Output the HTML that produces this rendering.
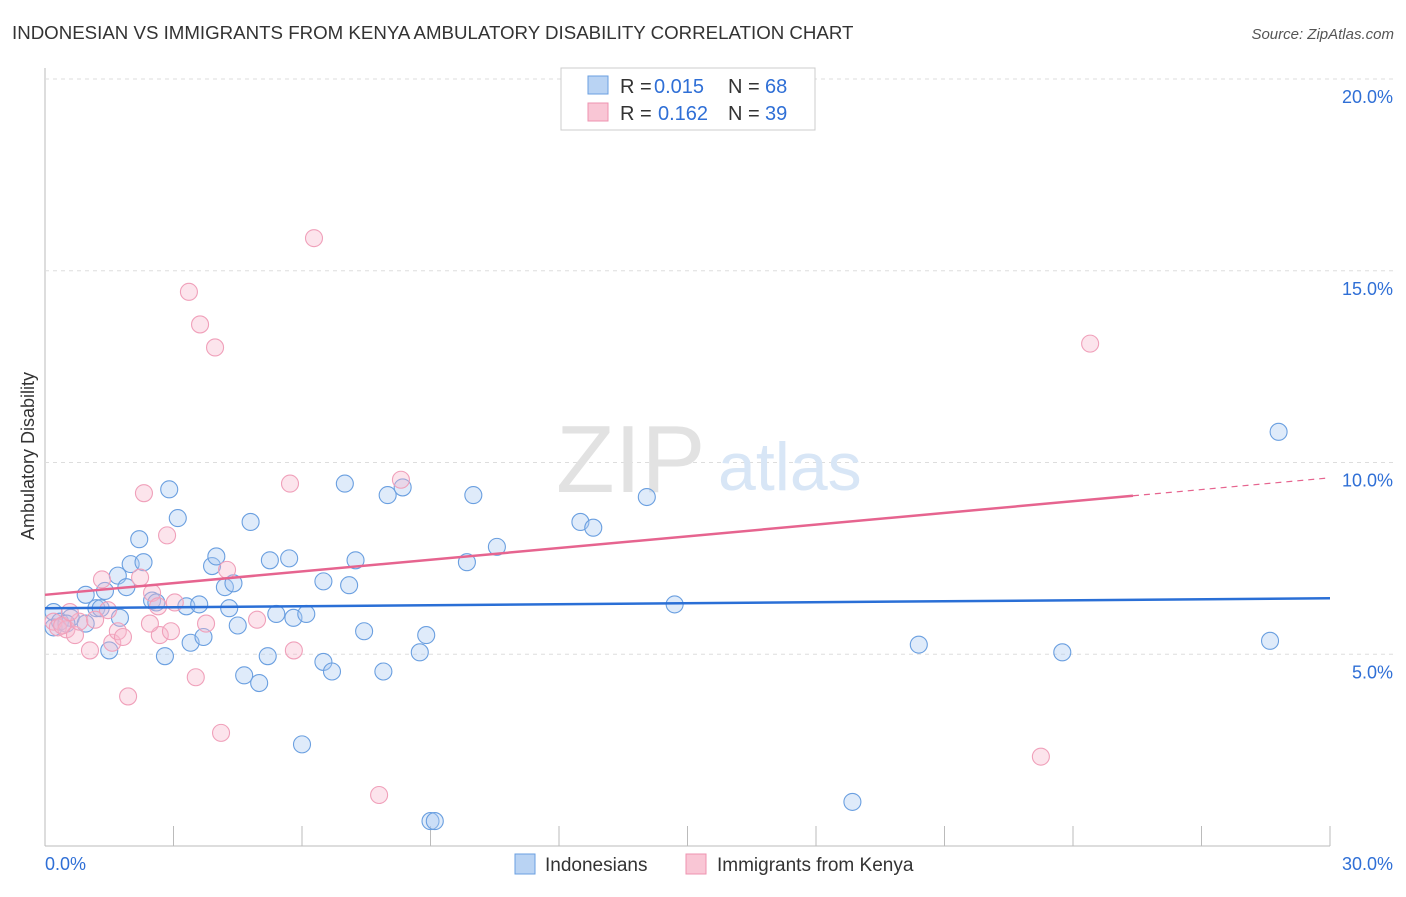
<!DOCTYPE html>
<html><head><meta charset="utf-8"><style>
body{margin:0;background:#fff;font-family:"Liberation Sans",sans-serif;}
svg text{font-family:"Liberation Sans",sans-serif;}
</style></head><body>
<svg width="1406" height="892">
<text x="12" y="39" font-size="18.7" fill="#333">INDONESIAN VS IMMIGRANTS FROM KENYA AMBULATORY DISABILITY CORRELATION CHART</text>
<text x="1394" y="39" font-size="15" fill="#555" text-anchor="end" font-style="italic">Source: ZipAtlas.com</text>
<g id="grid"></g>
<text x="556" y="492" font-size="96" fill="#e2e2e2" font-family="Liberation Serif">ZIP</text>
<text x="718" y="490" font-size="68" fill="#d8e6f6">atlas</text>
<text transform="translate(34,456) rotate(-90)" font-size="18" fill="#333" text-anchor="middle">Ambulatory Disability</text>
<g id="pts"></g>
<g id="lines"></g>
<g>
<rect x="561" y="68" width="254" height="62" fill="#fff" stroke="#ccc"/>
<rect x="588" y="76" width="20" height="18" fill="#b9d3f3" stroke="#6a9fe0"/>
<rect x="588" y="103" width="20" height="18" fill="#f9c6d5" stroke="#ee93b0"/>
<text x="620" y="93" font-size="20" fill="#333">R =</text>
<text x="654" y="93" font-size="20" fill="#2f6fd6">0.015</text>
<text x="728" y="93" font-size="20" fill="#333">N =</text>
<text x="765" y="93" font-size="20" fill="#2f6fd6">68</text>
<text x="620" y="120" font-size="20" fill="#333">R =</text>
<text x="658" y="120" font-size="20" fill="#2f6fd6">0.162</text>
<text x="728" y="120" font-size="20" fill="#333">N =</text>
<text x="765" y="120" font-size="20" fill="#2f6fd6">39</text>
</g>
<g>
<rect x="515" y="854" width="20" height="20" fill="#b9d3f3" stroke="#6a9fe0"/>
<text x="545" y="871" font-size="19" fill="#333">Indonesians</text>
<rect x="686" y="854" width="20" height="20" fill="#f9c6d5" stroke="#ee93b0"/>
<text x="717" y="871" font-size="19" fill="#333">Immigrants from Kenya</text>
</g>
</svg>
<script>
const yTicks=[5,10,15,20];
const yTickLabels=["5.0%","10.0%","15.0%","20.0%"];
const xTickLabels=["0.0%","30.0%"];
const blueX=[0.2,0.2,0.35,0.6,0.95,1.2,1.4,1.5,1.7,1.75,1.9,2.0,2.2,2.3,2.5,2.6,2.8,2.9,3.1,3.3,3.4,3.6,3.7,3.9,4.0,4.2,4.3,4.4,4.5,4.65,4.8,5.0,5.2,5.25,5.4,5.7,5.8,6.1,6.0,6.5,6.5,6.7,7.0,7.1,7.25,7.45,7.9,8.0,8.35,8.75,8.9,9.0,9.1,9.85,10.0,10.55,12.5,12.8,14.05,14.7,18.85,20.4,23.75,28.6,28.8,0.95,0.5,1.3];
const blueY=[6.1,5.7,5.85,5.95,6.55,6.2,6.65,5.1,7.05,5.95,6.75,7.35,8.0,7.4,6.4,6.35,4.95,9.3,8.55,6.25,5.3,6.3,5.45,7.3,7.55,6.75,6.2,6.85,5.75,4.45,8.45,4.25,4.95,7.45,6.05,7.5,5.95,6.05,2.65,4.8,6.9,4.55,9.45,6.8,7.45,5.6,4.55,9.15,9.35,5.05,5.5,0.65,0.65,7.4,9.15,7.8,8.45,8.3,9.1,6.3,1.15,5.25,5.05,5.35,10.8,5.8,5.8,6.2];
const pinkX=[0.2,0.3,0.5,0.7,0.8,1.05,1.33,1.47,1.57,1.7,1.82,1.94,2.22,2.31,2.5,2.64,2.68,2.85,2.94,3.03,3.36,3.52,3.62,3.76,3.97,4.11,4.25,4.95,5.72,5.81,6.28,7.8,8.31,23.25,24.4,0.4,1.17,0.58,2.45];
const pinkY=[5.85,5.7,5.65,5.5,5.85,5.1,6.95,6.15,5.3,5.6,5.45,3.9,7.0,9.2,6.6,6.25,5.5,8.1,5.6,6.35,14.45,4.4,13.6,5.8,13.0,2.95,7.2,5.9,9.45,5.1,15.85,1.33,9.55,2.33,13.1,5.75,5.9,6.1,5.8];
const blueLine=[6.2,6.46];
const pinkLine=[6.55,9.6];
const NS="http://www.w3.org/2000/svg";
const X0=45,X1=1330,Y0=846,PY=38.35;
function xs(v){return X0+(v/30)*(X1-X0);}
function ys(v){return Y0-v*PY;}
function mk(t,a,p){const e=document.createElementNS(NS,t);for(const k in a)e.setAttribute(k,a[k]);p.appendChild(e);return e;}
const grid=document.getElementById('grid');
let ax=mk('line',{x1:45,y1:68,x2:45,y2:846,stroke:'#bbb'},grid);


let bx=mk('line',{x1:45,y1:846,x2:1330,y2:846,stroke:'#bbb'},grid);


yTicks.forEach((t,i)=>{
 const g=mk('line',{x1:45,y1:ys(t),x2:1394,y2:ys(t),stroke:'#ddd','stroke-dasharray':'4,4'},grid);
 
 
 const tx=mk('text',{x:1393,y:ys(t)+24,'font-size':18,fill:'#2f6fd6','text-anchor':'end'},grid);
 tx.textContent=yTickLabels[i];
 
 
});
for(let i=1;i<=10;i++){const x=45+i*128.5;const l=mk('line',{x1:x,y1:826,x2:x,y2:846,stroke:'#bbb'},grid);
 
 }
xTickLabels.forEach((s,i)=>{const t=mk('text',{x:i?1393:45,y:870,'font-size':18,fill:'#2f6fd6','text-anchor':i?'end':'start'},grid);t.textContent=s;
 
 });
const pts=document.getElementById('pts');
blueX.forEach((x,i)=>{const c=mk('circle',{cx:xs(x),cy:ys(blueY[i]),r:8.5,fill:'rgba(170,202,242,0.38)',stroke:'#6a9fe0','stroke-width':1.1},pts);
 
 });
pinkX.forEach((x,i)=>{const c=mk('circle',{cx:xs(x),cy:ys(pinkY[i]),r:8.5,fill:'rgba(247,185,205,0.38)',stroke:'#f0a0ba','stroke-width':1.1},pts);
 
 });
const ln=document.getElementById('lines');
let b=mk('line',{x1:xs(0),y1:ys(blueLine[0]),x2:xs(30),y2:ys(blueLine[1]),stroke:'#2a6fd6','stroke-width':2.5},ln);


const split=25.4,pm=pinkLine[0]+(pinkLine[1]-pinkLine[0])*split/30;
let p=mk('line',{x1:xs(0),y1:ys(pinkLine[0]),x2:xs(split),y2:ys(pm),stroke:'#e6648f','stroke-width':2.5},ln);


let pd=mk('line',{x1:xs(split),y1:ys(pm),x2:xs(30),y2:ys(pinkLine[1]),stroke:'#e6648f','stroke-width':1.2,'stroke-dasharray':'6,5'},ln);


</script>
</body></html>
